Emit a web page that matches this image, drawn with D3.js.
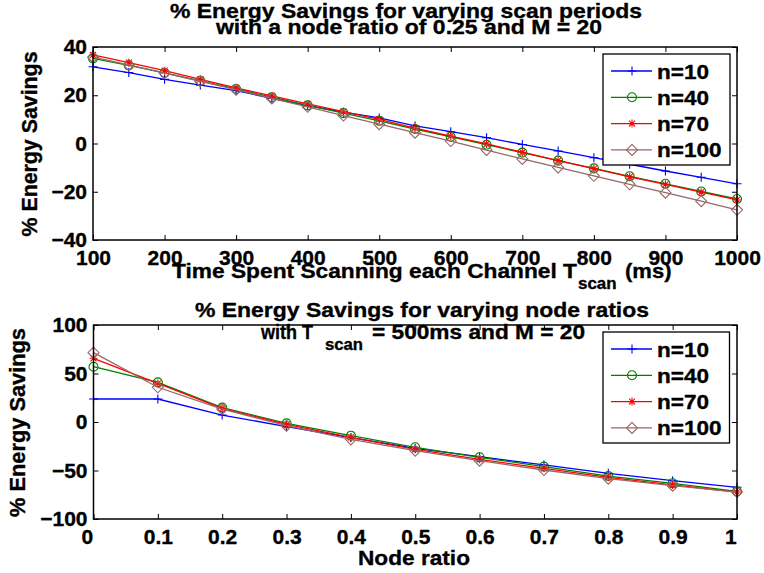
<!DOCTYPE html>
<html><head><meta charset="utf-8">
<script src="https://cdn.jsdelivr.net/npm/d3@7"></script>
<style>
body{margin:0;background:#fff}
text{font-family:"Liberation Sans",Arial,Helvetica,sans-serif;font-weight:bold;fill:#000;stroke:#000;stroke-width:0.35px}
</style>
</head><body>
<svg id="chart" width="764" height="573"></svg>
<script>
// ---------- data ----------
const seriesNames = ["n=10", "n=40", "n=70", "n=100"];
const seriesColors = ["#0000ff", "#008000", "#ff0000", "#996666"];
const seriesMarkers = ["plus", "circle", "star", "diamond"];

// Top panel: % energy savings vs. scan time per channel (ms)
const scanTimes = [100, 150, 200, 250, 300, 350, 400, 450, 500, 550, 600, 650, 700, 750, 800, 850, 900, 950, 1000];
const topN10  = [31.8, 29.4, 26.6, 24.2, 21.9, 18.7, 15.7, 13.0, 10.6, 7.3, 4.9, 2.4, -0.4, -3.1, -5.9, -8.6, -11.4, -14.0, -16.7];
const topN40  = [35.3, 32.4, 29.3, 26.0, 22.6, 19.2, 15.8, 12.6, 9.4, 6.0, 2.8, -0.5, -3.8, -7.1, -10.3, -13.6, -16.7, -19.9, -23.0];
const topN70  = [36.7, 33.5, 30.2, 26.6, 23.1, 19.7, 16.4, 13.2, 10.0, 6.4, 3.1, -0.2, -3.6, -7.1, -10.4, -13.8, -16.9, -20.2, -23.4];
const topN100 = [35.8, 32.6, 29.2, 25.8, 22.3, 18.7, 15.2, 11.6, 8.0, 4.5, 1.0, -2.7, -6.4, -9.9, -13.4, -16.9, -20.4, -23.9, -27.5];
const topXTicks = [100, 200, 300, 400, 500, 600, 700, 800, 900, 1000];
const topXTickLabels = ["100", "200", "300", "400", "500", "600", "700", "800", "900", "1000"];
const topYTicks = [-40, -20, 0, 20, 40];
const topYTickLabels = ["\u221240", "\u221220", "0", "20", "40"];

// Bottom panel: % energy savings vs. node ratio
const nodeRatios = [0, 0.1, 0.2, 0.3, 0.4, 0.5, 0.6, 0.7, 0.8, 0.9, 1.0];
const botN10  = [23.7, 23.7, 7.2, -4.8, -16.2, -27.1, -35.7, -44.3, -52.9, -60.5, -67.3];
const botN40  = [57.0, 40.9, 14.8, -1.4, -14.1, -26.1, -36.4, -46.0, -55.7, -63.2, -71.5];
const botN70  = [65.7, 39.9, 14.1, -2.4, -15.8, -28.2, -38.5, -47.8, -57.0, -64.9, -72.2];
const botN100 = [71.5, 35.8, 13.4, -3.8, -17.9, -29.5, -39.9, -49.5, -58.4, -65.6, -72.2];
const botXTicks = [0, 0.1, 0.2, 0.3, 0.4, 0.5, 0.6, 0.7, 0.8, 0.9, 1];
const botXTickLabels = ["0", "0.1", "0.2", "0.3", "0.4", "0.5", "0.6", "0.7", "0.8", "0.9", "1"];
const botYTicks = [-100, -50, 0, 50, 100];
const botYTickLabels = ["\u2212100", "\u221250", "0", "50", "100"];

// ---------- drawing ----------
const svg = d3.select("#chart");
const FONT = '"Liberation Sans",Arial,Helvetica,sans-serif';

function markerPath(type) {
  if (type === "plus") return "M-4.5,0H4.5M0,-4.5V4.5";
  if (type === "circle") return "M4.5,0A4.5,4.5 0 1,1 -4.5,0A4.5,4.5 0 1,1 4.5,0Z";
  if (type === "star") return "M-4,0H4M0,-4V4M-3,-3L3,3M-3,3L3,-3";
  return "M0,-5.5L5.5,0L0,5.5L-5.5,0Z";
}

function txt(g, x, y, s, o) {
  o = o || {};
  const t = g.append("text").attr("x", x).attr("y", y).text(s)
    .style("font-size", (o.size || 21) + "px")
    .attr("text-anchor", o.anchor || "start");
  if (o.len) t.attr("textLength", o.len).attr("lengthAdjust", "spacingAndGlyphs");
  if (o.stretch) {
    const w = t.node().getComputedTextLength();
    t.attr("textLength", w * o.stretch).attr("lengthAdjust", "spacingAndGlyphs");
  }
  return t;
}

function styleTick(sel) {
  sel.style("font-size", "21px").attr("fill", "#000")
    .style("font-family", FONT).style("font-weight", "bold");
}

function panel(cfg) {
  const x = d3.scaleLinear().domain(cfg.xDomain).range([cfg.left, cfg.right]);
  const y = d3.scaleLinear().domain(cfg.yDomain).range([cfg.bottom, cfg.top]);
  const g = svg.append("g");

  // series
  cfg.series.forEach((vals, i) => {
    const pts = vals.map((v, j) => [cfg.xs[j], v]);
    g.append("path")
      .attr("d", d3.line().x(d => x(d[0])).y(d => y(d[1]))(pts))
      .attr("fill", "none").attr("stroke", seriesColors[i]).attr("stroke-width", 1.3);
    g.selectAll(null).data(pts).enter().append("path")
      .attr("transform", d => `translate(${x(d[0])},${y(d[1])})`)
      .attr("d", markerPath(seriesMarkers[i]))
      .attr("fill", "none").attr("stroke", seriesColors[i]).attr("stroke-width", 1.1);
  });

  // axes with inward ticks on all four sides
  const ax = (gen, tx, ty) => {
    const a = g.append("g").attr("transform", `translate(${tx},${ty})`).call(gen);
    a.select(".domain").remove();
    a.selectAll(".tick line").attr("stroke", "#000").attr("stroke-width", 1);
    return a;
  };
  const xb = ax(d3.axisBottom(x).tickValues(cfg.xTicks).tickSize(-5).tickPadding(10)
      .tickFormat((d, i) => cfg.xLabels[i]), 0, cfg.bottom);
  styleTick(xb.selectAll(".tick text"));
  if (cfg.shortLabelShift) {
    xb.selectAll(".tick text").each(function(d, i) {
      const s = cfg.xLabels[i];
      if (s.length < 3) d3.select(this).attr("text-anchor", "start").attr("x", -12.5);
    });
  }
  ax(d3.axisTop(x).tickValues(cfg.xTicks).tickSize(-5).tickFormat(""), 0, cfg.top);
  const yl = ax(d3.axisLeft(y).tickValues(cfg.yTicks).tickSize(-5).tickPadding(6)
      .tickFormat((d, i) => cfg.yLabels[i]), cfg.left, 0);
  styleTick(yl.selectAll(".tick text"));
  ax(d3.axisRight(y).tickValues(cfg.yTicks).tickSize(-5).tickFormat(""), cfg.right, 0);

  // box
  g.append("rect").attr("x", cfg.left).attr("y", cfg.top)
    .attr("width", cfg.right - cfg.left).attr("height", cfg.bottom - cfg.top)
    .attr("fill", "none").attr("stroke", "#000").attr("stroke-width", 1.5);

  // legend
  const L = cfg.legend;
  const lg = g.append("g").attr("transform", `translate(${L.x},${L.y})`);
  lg.append("rect").attr("width", L.w).attr("height", L.h)
    .attr("fill", "#fff").attr("stroke", "#000").attr("stroke-width", 1.3);
  seriesNames.forEach((name, i) => {
    const ry = 17 + i * 26.3;
    lg.append("line").attr("x1", 8).attr("x2", 49).attr("y1", ry).attr("y2", ry)
      .attr("stroke", seriesColors[i]).attr("stroke-width", 1.3);
    lg.append("path").attr("transform", `translate(29,${ry})`).attr("d", markerPath(seriesMarkers[i]))
      .attr("fill", "none").attr("stroke", seriesColors[i]).attr("stroke-width", 1.1);
    txt(lg, 54, ry + 7.5, name, {size: 20.5, stretch: 1.1});
  });

  // y label
  g.append("text").attr("transform", `translate(${cfg.ylabX},${(cfg.top + cfg.bottom) / 2 + 0.5}) rotate(-90)`)
    .attr("text-anchor", "middle").style("font-size", "21.5px")
    .attr("textLength", cfg.ylabLen).attr("lengthAdjust", "spacingAndGlyphs")
    .text("% Energy Savings");
  return g;
}

panel({
  xDomain: [100, 1000], yDomain: [-40, 40],
  left: 93, right: 737, top: 47, bottom: 240,
  xs: scanTimes, series: [topN10, topN40, topN70, topN100],
  xTicks: topXTicks, xLabels: topXTickLabels, yTicks: topYTicks, yLabels: topYTickLabels,
  legend: {x: 603, y: 54, w: 127, h: 111},
  ylabX: 37, ylabLen: 185
});
panel({
  xDomain: [0, 1], yDomain: [-100, 100],
  left: 93.5, right: 737, top: 325, bottom: 519,
  xs: nodeRatios, series: [botN10, botN40, botN70, botN100],
  xTicks: botXTicks, xLabels: botXTickLabels, yTicks: botYTicks, yLabels: botYTickLabels,
  shortLabelShift: true,
  legend: {x: 603, y: 332, w: 126.5, h: 111},
  ylabX: 25, ylabLen: 189
});

// titles and x labels
const T = svg.append("g");
txt(T, 170, 17.5, "% Energy Savings for varying scan periods", {len: 472});
txt(T, 216, 33.5, "with a node ratio of 0.25 and M = 20", {len: 386});
txt(T, 172, 277.5, "Time Spent Scanning each Channel T", {len: 405});
txt(T, 578, 288.5, "scan", {size: 16, len: 38.5});
txt(T, 625, 277.5, "(ms)", {len: 46.5});

txt(T, 195, 317, "% Energy Savings for varying node ratios", {len: 454});
txt(T, 261, 338.5, "with T", {len: 52});
txt(T, 325, 350, "scan", {size: 16, len: 38});
txt(T, 372, 338.5, "= 500ms and M = 20", {len: 213});
txt(T, 358, 565, "Node ratio", {len: 112});
</script>
</body></html>
